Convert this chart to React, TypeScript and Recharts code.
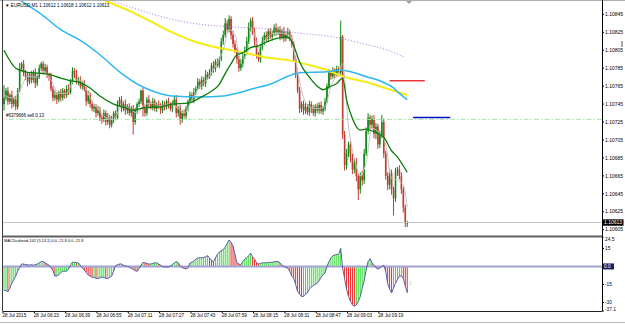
import React from "react";
import { Bar, ComposedChart, Line, ReferenceLine, XAxis, YAxis } from "recharts";

// prices are stored as points above 1.10000 (e.g. 752 -> 1.10752)
const BASE = 1.1;
const SLOTS = 306; // visible bar slots incl. the empty shift area on the right

const OPEN0 = 745;
const CLOSES = [
  752, 760, 748, 755, 745, 750, 742, 760, 785, 790,
  780, 775, 770, 778, 772, 780, 768, 775, 785, 790, 782, 786, 778,
  776, 762, 752, 755,
  750, 758, 752, 760, 755, 762, 758,
  770, 782, 778, 770, 772,
  765, 768, 762,
  748, 755, 745, 740, 742,
  735, 738, 730, 728, 735, 725, 730, 722, 728, 735, 730,
  745, 750, 740, 745, 738,
  742, 735, 740, 725, 738, 745,
  748, 760, 740, 735,
  750, 745, 742, 748, 740, 745, 743, 738,
  745, 742, 748, 744, 740, 746,
  750, 735, 740, 728, 735, 732,
  740, 748, 755, 750, 758,
  762, 770, 765, 772, 768, 778, 775,
  780, 788, 784, 792, 788, 795, 815,
  822, 835, 828, 840, 822,
  812, 805, 795, 785, 790, 798,
  805, 815, 830, 838, 825,
  815, 800, 795, 808,
  815, 822, 818, 826, 820, 824, 830, 825, 828, 820, 826, 818, 822,
  825, 818, 812,
  795, 778, 760, 740,
  745, 738, 742, 736, 745, 740, 735, 742, 738, 744, 737, 740, 748,
  765, 780,
  776, 782, 778, 784, 780,
  820,
  711, 677,
  690, 700, 685, 672,
  680, 665, 650,
  665, 660,
  690, 715, 730, 722,
  728, 712, 720, 700, 710,
  725, 690,
  665, 655,
  668, 650, 640,
  670, 672, 665,
  650, 630, 612,
  613,
];
const UP_WICK = [
  14, 3, 4, 2, 5, 3, 4, 3, 6, 2, 4, 3, 5, 2, 4, 3, 5, 3, 4, 2,
  3, 4, 3, 2, 4, 3, 5, 3, 2, 4, 3, 2, 4, 5, 3, 4, 3, 5, 3, 4,
  3, 4, 2, 5, 3, 4, 3, 3, 5, 4, 3, 4, 3, 5, 3, 4, 2, 3, 4, 3,
  4, 3, 5, 3, 4, 3, 4, 3, 2, 3, 1, 3, 4, 3, 5, 3, 4, 3, 2, 4,
  3, 4, 3, 2, 4, 3, 3, 4, 5, 3, 4, 3, 4, 3, 2, 4, 3, 5, 3, 4,
  3, 4, 3, 5, 3, 4, 3, 5, 3, 4, 3, 4, 5, 6, 4, 4, 3, 5, 4, 3,
  4, 5, 3, 4, 5, 6, 3, 4, 5, 4, 3, 4, 5, 3, 4, 3, 4, 3, 4, 5,
  3, 4, 3, 5, 4, 5, 3, 4, 3, 4, 3, 4, 3, 4, 5, 3, 4, 3, 4, 3,
  4, 3, 4, 3, 4, 3, 4, 3, 4, 3, 4, 3, 18, 2, 4, 5, 3, 4, 5, 4,
  5, 3, 4, 6, 5, 4, 5, 3, 4, 5, 4, 3, 5, 8, 4, 3, 4, 5, 4, 3,
  4, 3, 5, 4, 3, 3, 2,
];
const DN_WICK = [
  7, 3, 4, 3, 5, 3, 4, 3, 2, 3, 4, 3, 5, 3, 4, 3, 5, 3, 2, 3,
  4, 3, 4, 5, 3, 4, 3, 5, 3, 4, 3, 4, 3, 3, 2, 3, 4, 3, 4, 3,
  4, 3, 5, 3, 4, 3, 4, 5, 3, 4, 5, 3, 4, 3, 4, 3, 4, 3, 2, 3,
  4, 3, 5, 4, 3, 4, 14, 3, 4, 3, 3, 9, 4, 3, 4, 3, 4, 3, 4, 3,
  4, 3, 4, 3, 4, 3, 4, 3, 5, 4, 6, 4, 3, 4, 3, 2, 3, 4, 3, 2,
  3, 4, 3, 4, 3, 2, 3, 4, 3, 2, 3, 2, 4, 3, 4, 3, 5, 4, 3, 5,
  4, 3, 4, 3, 4, 3, 4, 3, 5, 4, 3, 4, 3, 4, 3, 4, 3, 4, 3, 4,
  3, 4, 3, 4, 3, 4, 3, 4, 3, 4, 3, 5, 4, 5, 4, 3, 4, 5, 3, 4,
  3, 4, 3, 4, 3, 2, 3, 4, 3, 4, 3, 4, 4, 5, 6, 5, 4, 5, 5, 4,
  6, 12, 5, 6, 4, 3, 4, 5, 4, 5, 6, 5, 4, 3, 5, 4, 6, 5, 6, 19,
  4, 5, 4, 5, 6, 4, 4,
];

const MACD = [
  -20, -20, -21, -18, -14, -11, -8, -4, -1, 2,
  2, 1.5, 1.5, 1, 1.5, 1, 1.5, 2, 3, 4,
  4, 3, 2, 1, -1, -3, -8, -8, -7, -5,
  -4, -4, -4, -2, 1, 3.5, 3.5, 3, 3, 1,
  -1, -3, -5, -7, -8, -9, -9, -10, -10, -9.5,
  -9, -9, -10, -10, -9, -8, -4, 0.5, 1.5, 2,
  2, 1, 0.5, 0, -0.5, -1.5, -2.5, -3.5, -4, -2,
  1, 3.3, 3, 2.5, 2, 2, 2.5, 3, 3, 2,
  1, 0, -0.5, -0.5, -0.5, 0.5, 1.4, 3, 4, 3,
  0.5, -1, -1.5, -2.2, -1, 2.8, 3.5, 4.5, 6, 7,
  7.2, 7.3, 7.5, 8, 9, 7, 5, 4, 7, 10,
  12, 13, 14, 16, 19, 22, 20, 17, 10, 3,
  2, 1.4, 4, 6, 7, 9, 11, 8, 6, 3,
  2, 2.5, 3, 3, 3, 3.3, 3.3, 3.5, 3.8, 4,
  4, 3, 1, 0, -1, -1.4, -4, -8, -10, -15,
  -21, -23, -25, -25, -23, -22, -19, -17, -16, -15,
  -14, -12, -9, -7, -5.5, 0, 4, 7, 9, 9.5,
  10, 10, 15, -1.4, -10, -19, -25, -29, -32, -33,
  -32, -29, -25, -18, -12, -3, 4, 6.4, 3, 1,
  -1, -2.2, -1.5, 0, 1, -4, -14, -19, -22, -18,
  -14, -11, -8, -8, -10, -16, -21.8,
];

// moving averages: [bar index, points]
const GREEN_MA: [number, number][] = [
  [0, 805], [6, 785], [11, 781], [23, 778], [29, 774], [34, 771], [39, 769], [44, 763],
  [49, 754], [56, 745], [62, 741], [66, 738], [72, 741], [80, 742], [86, 745], [94, 746],
  [100, 752], [105, 758], [110, 767], [113, 779], [116, 790], [119, 800], [122, 802],
  [126, 808], [130, 810], [134, 814], [139, 818], [144, 820], [146, 818], [148, 810],
  [151, 792], [156, 775], [160, 765], [163, 761], [166, 764], [170, 768], [173, 774],
  [175, 750], [178, 729], [182, 716], [185, 717], [188, 715], [194, 708], [198, 693],
  [201, 686], [206, 669],
];
const GREY_MA: [number, number][] = [
  [0, 755], [4, 752], [8, 760], [12, 776], [16, 775], [20, 782], [24, 772], [28, 757],
  [32, 757], [36, 772], [40, 770], [44, 752], [48, 740], [52, 730], [56, 728], [60, 742],
  [64, 740], [68, 735], [72, 745], [76, 746], [80, 743], [84, 745], [88, 742], [92, 735],
  [96, 750], [100, 765], [104, 773], [108, 787], [112, 805], [115, 828], [118, 822],
  [121, 795], [124, 800], [127, 828], [130, 808], [134, 818], [138, 824], [142, 824],
  [146, 822], [149, 795], [152, 760], [156, 742], [160, 740], [164, 742], [167, 765],
  [171, 780], [173, 790], [176, 720], [179, 685], [182, 665], [185, 680], [188, 718],
  [192, 712], [195, 700], [198, 662], [201, 660], [204, 655], [206, 630],
];
const BLUE_MA: [number, number][] = [
  [0, 874], [8, 861], [18, 847], [29, 828], [39, 816], [49, 800], [59, 781], [71, 764],
  [78, 758], [86, 754], [100, 753], [112, 754], [119, 757], [127, 762], [137, 768],
  [145, 776], [151, 780], [165, 781], [172, 783], [177, 781], [186, 775], [192, 771],
  [199, 763], [202, 757], [206, 750],
];
const YELLOW_MA: [number, number][] = [
  [0, 911], [29, 883], [51, 861], [66, 847], [76, 836], [86, 825], [97, 815], [105, 810],
  [121, 803], [134, 797], [145, 794], [155, 789], [165, 783], [173, 776], [186, 769],
  [196, 762], [206, 755],
];
const PURPLE_MA: [number, number][] = [
  [0, 900], [29, 880], [54, 861], [69, 850], [83, 841], [100, 834], [117, 831], [134, 829],
  [151, 824], [168, 820], [182, 813], [196, 805], [205, 797],
];

const PRICE_TICKS = [845, 825, 805, 785, 765, 745, 725, 705, 685, 665, 645, 625, 605];
const LAST_PRICE = 613;
const ORDER_LEVEL = 728;
const RED_LEVEL = 771;
const BLUE_LEVEL = 730;
const MACD_TICKS = [24.5, 15, 0, -15, -30, -37.1];
const TIME_LABELS = [
  "28 Jul 2015", "28 Jul 06:23", "28 Jul 06:39", "28 Jul 06:55", "28 Jul 07:11",
  "28 Jul 07:27", "28 Jul 07:43", "28 Jul 07:59", "28 Jul 08:15", "28 Jul 08:31",
  "28 Jul 08:47", "28 Jul 09:03", "28 Jul 09:19",
];

const FONT = "'Liberation Sans', Arial, sans-serif";
const fmt = (v: number) => (BASE + v / 100000).toFixed(5);

const rows: any[] = Array.from({ length: SLOTS }, (_, i) => ({ i }));
CLOSES.forEach((close, i) => {
  const open = i === 0 ? OPEN0 : CLOSES[i - 1];
  const hi = Math.max(open, close) + UP_WICK[i];
  const lo = Math.min(open, close) - DN_WICK[i];
  Object.assign(rows[i], { open, close, hi, lo, range: [lo, hi] });
});
MACD.forEach((m, i) => {
  rows[i].macd = m;
  rows[i].rising = i === 0 || m >= MACD[i - 1];
});
GREEN_MA.forEach(([i, v]) => (rows[i].green = v));
GREY_MA.forEach(([i, v]) => (rows[i].grey = v));
BLUE_MA.forEach(([i, v]) => (rows[i].blue = v));
YELLOW_MA.forEach(([i, v]) => (rows[i].yellow = v));
PURPLE_MA.forEach(([i, v]) => (rows[i].purple = v));

function Candle(props: any) {
  const { x, y, width, height, payload } = props;
  if (!payload || payload.range == null) return null;
  const { open, close, hi, lo } = payload;
  const top = Math.min(y, y + height);
  const h = Math.abs(height);
  const k = hi === lo ? 0 : h / (hi - lo);
  const py = (p: number) => top + (hi - p) * k;
  const cx = x + width / 2;
  const color = close >= open ? "#0d8a17" : "#c23a30";
  const bTop = py(Math.max(open, close));
  const bH = Math.max(1, Math.abs(py(open) - py(close)));
  return (
    <g>
      <line x1={cx} x2={cx} y1={top} y2={top + h} stroke={color} strokeWidth={1} />
      <rect x={cx - 0.8} y={bTop} width={1.6} height={bH} fill={color} />
    </g>
  );
}

function MacdBar(props: any) {
  const { x, y, width, height, payload } = props;
  if (!payload || payload.macd == null) return null;
  const top = Math.min(y, y + height);
  const h = Math.abs(height);
  const cx = x + width / 2;
  return (
    <line x1={cx} x2={cx} y1={top} y2={top + h} stroke={payload.rising ? "#3bdc3b" : "#ee2a2a"} strokeWidth={1} />
  );
}

function PriceTick(props: any) {
  const { x, y, payload } = props;
  const v = payload.value;
  if (v === LAST_PRICE) {
    return (
      <g>
        <rect x={x + 1} y={y - 3.2} width={20.5} height={6.4} fill="#000" />
        <text x={x + 2} y={y + 1.7} fontSize={5} fill="#fff" fontFamily={FONT}>{fmt(v)}</text>
      </g>
    );
  }
  return (
    <g>
      <line x1={x} x2={x + 2} y1={y} y2={y} stroke="#000" strokeWidth={1} />
      <text x={x + 3} y={y + 1.7} fontSize={5} fill="#000" fontFamily={FONT}>{fmt(v)}</text>
    </g>
  );
}

function MacdTick(props: any) {
  const { x, y, payload } = props;
  const v = payload.value;
  const label = v === 0 ? "0.0" : String(v);
  if (v === 0) {
    return (
      <g>
        <rect x={x + 1} y={y - 3} width={11} height={6} fill="#1b1b6b" />
        <text x={x + 2} y={y + 1.7} fontSize={4.8} fill="#fff" fontFamily={FONT}>{label}</text>
      </g>
    );
  }
  const dy = v === MACD_TICKS[0] ? 2 : v === MACD_TICKS[MACD_TICKS.length - 1] ? -2 : 0;
  return (
    <g>
      <line x1={x} x2={x + 2} y1={y} y2={y} stroke="#000" strokeWidth={1} />
      <text x={x + 3} y={y + 1.7 + dy} fontSize={4.8} fill="#000" fontFamily={FONT}>{label}</text>
    </g>
  );
}

function TimeTick(props: any) {
  const { x, y, payload } = props;
  const idx = payload.value / 16;
  const label = TIME_LABELS[idx];
  if (!label) return null;
  return (
    <g>
      <line x1={x - 1} x2={x - 1} y1={y} y2={y + 2} stroke="#000" strokeWidth={1} />
      <text x={x - 1.5} y={y + 5.8} fontSize={4.6} fill="#000" fontFamily={FONT}>{label}</text>
    </g>
  );
}

export default function App() {
  return (
    <div style={{ position: "absolute", left: 0, top: 0, width: 625, height: 324, background: "#fff", overflow: "hidden" }}>
      <div style={{ position: "absolute", left: 0, top: 0 }}>
        <ComposedChart width={625} height={236} data={rows} margin={{ top: 0, right: 0, left: 3, bottom: 0 }} barCategoryGap={0} barGap={0}>
          <XAxis dataKey="i" type="category" hide />
          <YAxis
            orientation="right"
            width={23}
            type="number"
            domain={[598, 861]}
            allowDataOverflow
            ticks={[...PRICE_TICKS, LAST_PRICE]}
            interval={0}
            tick={<PriceTick />}
            tickLine={false}
            axisLine={false}
            tickSize={0}
            tickMargin={0}
          />
          <ReferenceLine y={LAST_PRICE} stroke="#c8c8c8" strokeWidth={1} />
          <ReferenceLine y={ORDER_LEVEL} stroke="#a6e6a6" strokeWidth={1} strokeDasharray="5 2 1.5 2" />
          <ReferenceLine segment={[{ x: 197, y: RED_LEVEL }, { x: 215, y: RED_LEVEL }]} stroke="#e8383a" strokeWidth={1.5} />
          <ReferenceLine segment={[{ x: 209, y: BLUE_LEVEL }, { x: 228, y: BLUE_LEVEL }]} stroke="#0010d0" strokeWidth={1.5} />
          <Line dataKey="purple" type="monotone" connectNulls dot={false} stroke="#bb88ee" strokeWidth={1} strokeDasharray="1.2 1.8" isAnimationActive={false} />
          <Line dataKey="yellow" type="monotone" connectNulls dot={false} stroke="#f7ec10" strokeWidth={2} isAnimationActive={false} />
          <Line dataKey="blue" type="monotone" connectNulls dot={false} stroke="#2db8f0" strokeWidth={1.5} isAnimationActive={false} />
          <Line dataKey="grey" type="monotone" connectNulls dot={false} stroke="#c4c4c4" strokeWidth={1} isAnimationActive={false} />
          <Bar dataKey="range" shape={<Candle />} isAnimationActive={false} />
          <Line dataKey="green" type="monotone" connectNulls dot={false} stroke="#0a7d0a" strokeWidth={1.3} isAnimationActive={false} />
        </ComposedChart>
      </div>
      <div style={{ position: "absolute", left: 0, top: 237 }}>
        <ComposedChart width={625} height={87} data={rows} margin={{ top: 0, right: 0, left: 3, bottom: 0 }} barCategoryGap={0} barGap={0}>
          <XAxis
            dataKey="i"
            type="category"
            interval={15}
            tick={<TimeTick />}
            tickLine={false}
            axisLine={false}
            tickSize={0}
            tickMargin={0}
            height={13}
          />
          <YAxis
            orientation="right"
            width={23}
            type="number"
            domain={[-37.1, 24.5]}
            allowDataOverflow
            ticks={MACD_TICKS}
            interval={0}
            tick={<MacdTick />}
            tickLine={false}
            axisLine={false}
            tickSize={0}
            tickMargin={0}
          />
          <ReferenceLine y={0} stroke="#a3a3d6" strokeWidth={2} />
          <Bar dataKey="macd" shape={<MacdBar />} isAnimationActive={false} />
          <Line dataKey="macd" type="linear" dot={false} stroke="#5c5ca8" strokeWidth={1} isAnimationActive={false} />
        </ComposedChart>
      </div>
      <svg width={625} height={324} style={{ position: "absolute", left: 0, top: 0, pointerEvents: "none" }}>
        <line x1={0} x2={625} y1={0.5} y2={0.5} stroke="#b0b0b0" />
        <line x1={2.5} x2={2.5} y1={0} y2={311} stroke="#3a3a3a" />
        <line x1={602.5} x2={602.5} y1={0} y2={311} stroke="#000" />
        <line x1={3} x2={602} y1={236.5} y2={236.5} stroke="#606060" strokeWidth={2} />
        <line x1={3} x2={602} y1={311.5} y2={311.5} stroke="#222" />
        <line x1={0} x2={625} y1={322.5} y2={322.5} stroke="#b8b8b8" />
        <polygon points="406,1 412,1 409,4" fill="#a0a0a0" />
        <rect x={621} y={41} width={2} height={6} fill="#a8a8a8" />
        <text x={5} y={7} fontSize={4.6} fill="#000" fontFamily={FONT}>
          ▼ EURUSD,M1  1.10612 1.10618 1.10612 1.10613
        </text>
        <text x={6} y={117} fontSize={4.5} fill="#000" fontFamily={FONT}>#6379666 sell 0.13</text>
        <text x={4} y={242} fontSize={3.9} fill="#000" fontFamily={FONT}>
          MACDcolored-102 (5,13,1) 0.0 -21.8 0.0 -21.8
        </text>
        <text x={409} y={285} fontSize={4.6} fill="#c8c8c8" fontFamily={FONT}>0</text>
      </svg>
    </div>
  );
}
